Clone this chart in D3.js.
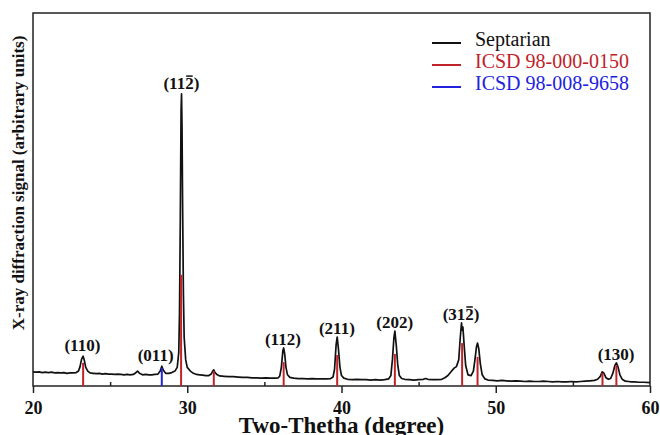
<!DOCTYPE html>
<head>
    <meta charset='utf-8'>
    <style>
        body {
            margin: 0;
            background: #fff;
            font-family: 'Liberation Serif', 'Times New Roman', serif;
        }
        .tick text {
            font-size: 18px;
            font-weight: bold;
            fill: #111;
        }
        .tick line {
            stroke: #222;
            stroke-width: 1.5px;
        }
        .hkl {
            font-size: 17px;
            font-weight: bold;
            fill: #111;
        }
    </style>
</head>

<body>
<div id='vis'></div>
<script src='https://cdn.jsdelivr.net/npm/d3@7/dist/d3.min.js'></script>
<script>
  const W = 660, H = 435
  const margin = {top: 13, right: 10, bottom: 49, left: 33}
  const serif = "'Liberation Serif', 'Times New Roman', serif"

  // measured pattern: [2theta, intensity]
  const septarian = [
    [20.0, 38], [20.2, 37], [20.4, 38], [20.6, 36], [20.8, 37], [21.0, 36], [21.2, 37], [21.4, 35],
    [21.6, 36], [21.8, 35], [22.0, 36], [22.2, 34], [22.4, 35], [22.6, 35], [22.8, 36], [22.95, 40],
    [23.05, 52], [23.15, 72], [23.25, 80], [23.32, 70], [23.42, 50], [23.55, 40], [23.7, 35], [23.9, 34],
    [24.1, 33], [24.3, 34], [24.5, 32], [24.7, 33], [24.9, 32], [25.1, 32], [25.3, 31], [25.5, 32],
    [25.7, 31], [25.9, 30], [26.1, 31], [26.3, 30], [26.5, 31], [26.65, 35], [26.78, 40], [26.9, 34],
    [27.1, 30], [27.3, 31], [27.5, 30], [27.7, 30], [27.9, 31], [28.1, 32], [28.25, 40], [28.35, 53],
    [28.45, 42], [28.6, 34], [28.8, 34], [29.0, 36], [29.2, 40], [29.35, 50], [29.45, 90], [29.5, 200],
    [29.55, 450], [29.6, 740], [29.63, 783], [29.66, 700], [29.7, 480], [29.75, 250], [29.8, 130],
    [29.9, 70], [30.0, 50], [30.2, 40], [30.4, 34], [30.6, 31], [30.8, 30], [31.0, 29], [31.2, 28],
    [31.4, 28], [31.55, 32], [31.65, 40], [31.72, 43], [31.8, 36], [31.95, 30], [32.1, 27], [32.4, 26],
    [32.7, 25], [33.0, 25], [33.3, 24], [33.6, 23], [33.9, 23], [34.2, 22], [34.5, 22], [34.8, 21],
    [35.1, 22], [35.4, 21], [35.7, 21], [35.9, 22], [36.0, 27], [36.1, 50], [36.2, 95], [36.25, 102],
    [36.32, 85], [36.4, 50], [36.5, 30], [36.65, 23], [36.9, 21], [37.2, 20], [37.5, 20], [37.8, 19],
    [38.1, 20], [38.4, 19], [38.7, 19], [39.0, 19], [39.3, 20], [39.45, 24], [39.55, 45], [39.65, 110],
    [39.72, 131], [39.8, 100], [39.9, 50], [40.0, 28], [40.15, 21], [40.4, 18], [40.7, 17], [41.0, 18],
    [41.3, 17], [41.6, 17], [41.9, 16], [42.2, 17], [42.5, 16], [42.8, 17], [43.05, 19], [43.2, 28],
    [43.3, 70], [43.4, 130], [43.46, 147], [43.55, 110], [43.65, 55], [43.75, 28], [43.9, 20], [44.1, 18],
    [44.4, 17], [44.7, 16], [45.0, 17], [45.3, 18], [45.45, 20], [45.6, 18], [45.9, 17], [46.2, 17],
    [46.5, 18], [46.7, 22], [46.9, 28], [47.1, 38], [47.3, 48], [47.45, 52], [47.6, 70], [47.7, 130],
    [47.78, 169], [47.82, 150], [47.87, 158], [47.95, 110], [48.05, 55], [48.2, 30], [48.4, 28],
    [48.55, 40], [48.65, 70], [48.75, 105], [48.82, 115], [48.9, 100], [49.0, 60], [49.12, 30],
    [49.3, 19], [49.5, 16], [49.8, 15], [50.1, 14], [50.4, 15], [50.7, 14], [51.0, 13], [51.3, 14],
    [51.6, 13], [51.9, 12], [52.2, 13], [52.5, 12], [52.8, 12], [53.1, 13], [53.4, 12], [53.7, 11],
    [54.0, 12], [54.3, 11], [54.6, 11], [54.9, 12], [55.2, 11], [55.5, 12], [55.8, 13], [56.1, 14],
    [56.4, 15], [56.6, 18], [56.78, 26], [56.9, 38], [57.0, 35], [57.15, 22], [57.3, 18], [57.45, 20],
    [57.6, 35], [57.72, 55], [57.82, 62], [57.92, 52], [58.05, 30], [58.2, 18], [58.4, 13], [58.6, 12],
    [58.8, 11], [59.0, 11], [59.3, 10], [59.6, 10], [60.0, 9]
  ]

  // reference sticks
  const icsd0150 = [
    [23.25, 62], [29.6, 298], [31.72, 40], [36.25, 64], [39.72, 83],
    [43.46, 86], [47.82, 115], [48.82, 78], [56.92, 35], [57.82, 56]
  ]
  const icsd9658 = [[28.35, 48]]

  // peak labels: text, 2theta, baseline intensity, index of barred char
  const hklText = ['(110)', '(011)', '(112)', '(112)', '(211)', '(202)', '(312)', '(130)']
  const hklPos = [23.2, 27.95, 29.62, 36.2, 39.7, 43.45, 47.75, 57.8]
  const hklLevel = [94, 68, 796, 110, 139, 155, 177, 70]
  const hklBar = [-1, -1, 3, -1, -1, -1, 3, -1]

  const xTicks = [20, 30, 40, 50, 60]
  const xMinor = [25, 35, 45, 55]

  const legendNames = ['Septarian', 'ICSD 98-000-0150', 'ICSD 98-008-9658']
  const legendColors = ['#111', '#c0222a', '#2222dd']

  const svg = d3.select('#vis')
    .append('svg')
    .attr('width', W)
    .attr('height', H)

  const x = d3.scaleLinear()
    .domain([20, 60])
    .range([margin.left, W - margin.right])

  const y = d3.scaleLinear()
    .domain([0, 1000])
    .range([H - margin.bottom, margin.top])

  const y0 = H - margin.bottom

  // frame
  svg.append('rect')
    .attr('x', margin.left)
    .attr('y', margin.top)
    .attr('width', x(60) - x(20))
    .attr('height', y0 - margin.top)
    .attr('fill', 'none')
    .attr('stroke', '#222')
    .attr('stroke-width', 1.5)

  // axes
  svg.append('g')
    .attr('transform', `translate(0, ${y0})`)
    .call(d3.axisBottom(x).tickValues(xTicks).tickSize(7).tickPadding(8).tickFormat(d3.format('d')))
    .call(g => g.select('.domain').remove())
    .attr('font-family', serif)
    .attr('font-size', 18)

  svg.append('g')
    .attr('transform', `translate(0, ${y0})`)
    .call(d3.axisBottom(x).tickValues(xMinor).tickSize(-4).tickFormat(''))
    .call(g => g.select('.domain').remove())

  // pattern
  const line = d3.line()
    .x(d => x(d[0]))
    .y(d => y(d[1]))

  svg.append('path')
    .datum(septarian)
    .attr('fill', 'none')
    .attr('stroke', '#111')
    .attr('stroke-width', 1.7)
    .attr('stroke-linejoin', 'round')
    .attr('d', line)

  svg.selectAll('.stick-red')
    .data(icsd0150)
    .enter()
    .append('line')
    .attr('class', 'stick-red')
    .attr('x1', d => x(d[0]))
    .attr('x2', d => x(d[0]))
    .attr('y1', y0)
    .attr('y2', d => y(d[1]))
    .attr('stroke', legendColors[1])
    .attr('stroke-width', 2)

  svg.selectAll('.stick-blue')
    .data(icsd9658)
    .enter()
    .append('line')
    .attr('class', 'stick-blue')
    .attr('x1', d => x(d[0]))
    .attr('x2', d => x(d[0]))
    .attr('y1', y0)
    .attr('y2', d => y(d[1]))
    .attr('stroke', legendColors[2])
    .attr('stroke-width', 2)

  // hkl labels
  hklText.forEach((t, i) => {
    const txt = svg.append('text')
      .attr('class', 'hkl')
      .attr('x', x(hklPos[i]))
      .attr('y', y(hklLevel[i]))
      .attr('text-anchor', 'middle')
      .text(t)
    if (hklBar[i] >= 0) {
      const node = txt.node()
      const s = node.getStartPositionOfChar(hklBar[i])
      const e = node.getEndPositionOfChar(hklBar[i])
      svg.append('line')
        .attr('x1', s.x + 1)
        .attr('x2', e.x - 1)
        .attr('y1', y(hklLevel[i]) - 13)
        .attr('y2', y(hklLevel[i]) - 13)
        .attr('stroke', '#111')
        .attr('stroke-width', 1.5)
    }
  })

  // legend
  const legend = svg.append('g')
  legendNames.forEach((n, i) => {
    const ly = 43 + i * 22
    legend.append('line')
      .attr('x1', 432).attr('x2', 461)
      .attr('y1', ly).attr('y2', ly)
      .attr('stroke', legendColors[i])
      .attr('stroke-width', 2)
    legend.append('text')
      .attr('x', 475)
      .attr('y', ly + 3)
      .attr('font-size', 20)
      .attr('fill', legendColors[i])
      .text(n)
  })

  // axis titles
  svg.append('text')
    .attr('x', (x(20) + x(60)) / 2)
    .attr('y', 433)
    .attr('text-anchor', 'middle')
    .attr('font-size', 23)
    .attr('font-weight', 'bold')
    .attr('fill', '#111')
    .text('Two-Thetha (degree)')

  svg.append('text')
    .attr('transform', 'translate(24, 183) rotate(-90)')
    .attr('text-anchor', 'middle')
    .attr('font-size', 17)
    .attr('font-weight', 'bold')
    .attr('fill', '#111')
    .text('X-ray diffraction signal (arbitrary units)')
</script>
</body>
